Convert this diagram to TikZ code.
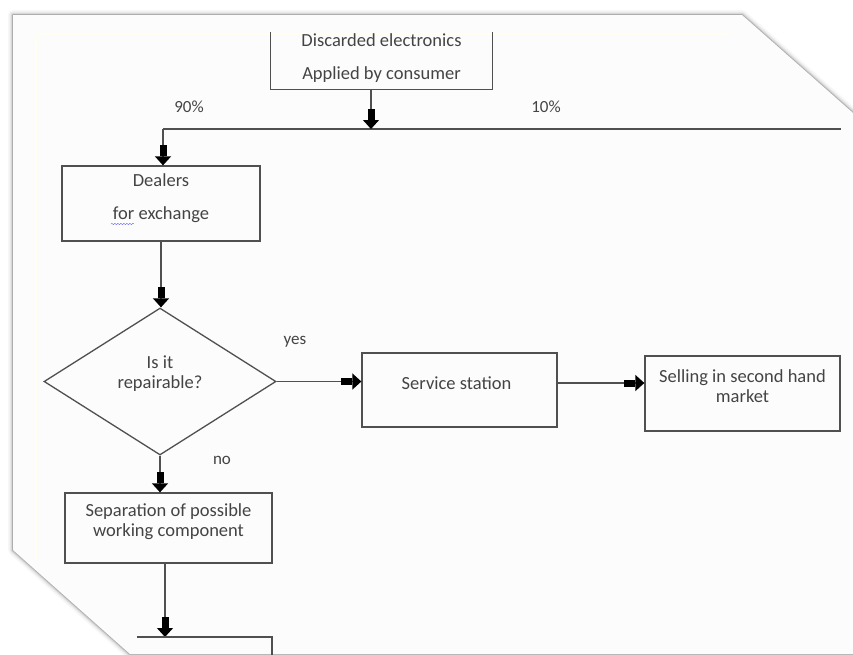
\documentclass[tikz,border=0pt]{standalone}
\usepackage{fontspec}
\setmainfont{Carlito}
\usetikzlibrary{arrows.meta,shapes.geometric,decorations.pathmorphing}
\definecolor{linec}{HTML}{505050}
\definecolor{txtc}{HTML}{444444}
\tikzset{
  box/.style={draw=linec, line width=1.3pt, inner sep=0pt},
  boxtext/.style={text=txtc, font=\fontsize{18.5}{20}\selectfont, align=center},
  lbl/.style={text=txtc, font=\fontsize{17}{20}\selectfont},
  conn/.style={draw=linec, line width=1.3pt},
  fat/.style={conn, -{Rectangle[length=11pt,width=7pt,sep=0pt,fill=black,black] Triangle[length=9pt,width=16pt,fill=black,black]}},
}
\begin{document}
\begin{tikzpicture}[x=1pt,y=-1pt]
\useasboundingbox (0,0) rectangle (853,654);
\clip (0,0) rectangle (853,654);
% page with shadow
\foreach \w/\o in {10/0.03,7/0.04,5/0.06,3/0.09,1.6/0.14}{
  \draw[line width=\w pt, black, opacity=\o, line join=round]
    (13,15) -- (742,15) -- (853,113) -- (853,654) -- (130,654) -- (13,550) -- cycle;
}
\fill[white!99!black] (13,15) -- (742,15) -- (853,113) -- (853,654) -- (130,654) -- (13,550) -- cycle;
\draw[yellow!6, line width=2pt] (36,560) -- (36,34) -- (730,34);

% source box (top cut off)
\node[inner sep=0pt, minimum width=221pt, minimum height=57pt] (src) at (381.5,60.5) {};
\draw[conn] (src.north west) -- (src.south west) -- (src.south east) -- (src.north east);
\node[boxtext] (srct) at (381.5,58.5) {Discarded electronics\\[13pt]Applied by consumer};

\coordinate (j) at (371,129);
\coordinate (jl) at (163,129);
\coordinate (jr) at (841,129);
\draw[conn] (jl) -- (jr);
\draw[fat] (j |- src.south) -- (j);
\node[lbl] (p90) at (189,107) {90\%};
\node[lbl] (p10) at (546,107) {10\%};

% dealers
\node[box, minimum width=198pt, minimum height=75pt,
  label={[boxtext, yshift=5pt, name=dealt]center:Dealers\\[13pt]for exchange}] (dealers) at (161,203.5) {};
\draw[blue!60, decorate, decoration={snake,amplitude=0.7pt,segment length=3pt}] (111,224) -- (134,224);
\draw[fat] (jl) -- (jl |- dealers.north);

% decision
\node[box, diamond, minimum width=232pt, minimum height=147pt,
  label={[boxtext, yshift=8pt, name=dect]center:Is it\\repairable?}] (dec) at (160,381.5) {};
\draw[fat] (dealers.south) -- (dealers.south |- dec.north);

% service station
\node[box, minimum width=195pt, minimum height=74pt,
  label={[boxtext, yshift=7pt, xshift=-3pt, name=servt]center:Service station}] (serv) at (459.5,390) {};
\draw[fat] (dec.east) -- (dec.east -| serv.west);
\node[lbl] (yes) at (295,342) {yes};

% selling
\node[box, minimum width=195pt, minimum height=75pt,
  label={[boxtext, yshift=7.5pt, name=sellt]center:Selling in second hand\\market}] (sell) at (742.5,393.5) {};
\draw[fat] ([yshift=7pt]serv.east) -- ([yshift=7pt]serv.east -| sell.west);

% separation
\node[box, minimum width=207pt, minimum height=70pt,
  label={[boxtext, yshift=6pt, name=sept]center:Separation of possible\\working component}] (sep) at (168.5,528) {};
\draw[fat] (dec.south) -- (dec.south |- sep.north);
\node[lbl] (no) at (222,460) {no};

% next box (cut off)
\coordinate (nxt) at (165,637);
\coordinate (nl) at (137,637);
\coordinate (nr) at (272,637);
\coordinate (nb) at (272,660);
\draw[fat] ([xshift=-3.5pt]sep.south) -- (nxt);
\draw[conn] (nl) -- (nr) -- (nb);
\end{tikzpicture}
\end{document}
